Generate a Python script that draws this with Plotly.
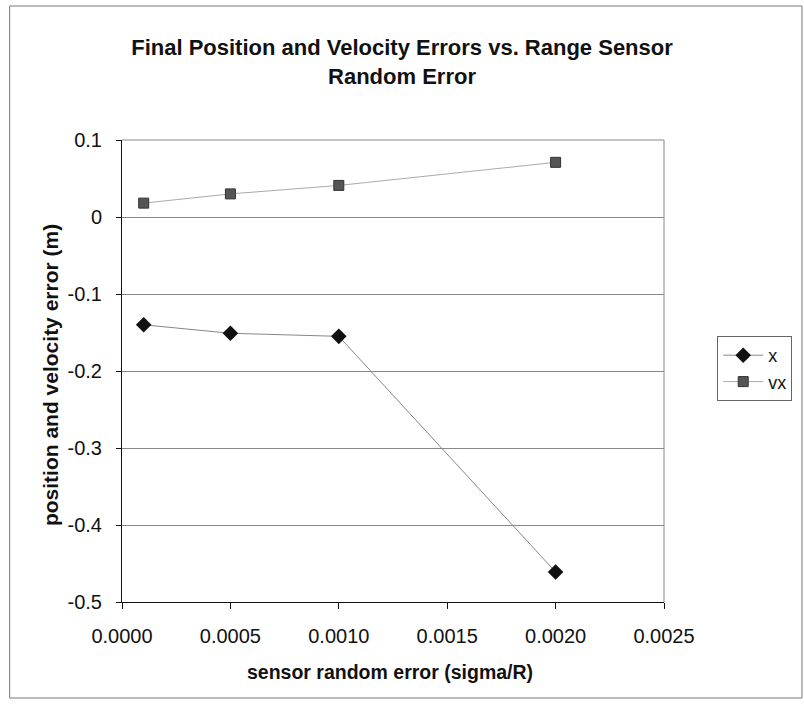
import plotly.graph_objects as go

sigma = [0.0001, 0.0005, 0.0010, 0.0020]
x_err = [-0.140, -0.151, -0.155, -0.461]
vx_err = [0.018, 0.030, 0.041, 0.071]

y_tickvals = [0.1, 0.0, -0.1, -0.2, -0.3, -0.4, -0.5]
y_ticktext = ["0.1", "0", "-0.1", "-0.2", "-0.3", "-0.4", "-0.5"]
x_tickvals = [0.0, 0.0005, 0.0010, 0.0015, 0.0020, 0.0025]
x_ticktext = ["0.0000", "0.0005", "0.0010", "0.0015", "0.0020", "0.0025"]

FONT = "Liberation Sans, Arial, sans-serif"

fig = go.Figure()
fig.add_trace(go.Scatter(
    x=sigma, y=x_err, name="x", mode="lines+markers",
    line=dict(color="#888888", width=1),
    marker=dict(symbol="diamond", size=12, color="#111111"),
))
fig.add_trace(go.Scatter(
    x=sigma, y=vx_err, name="vx", mode="lines+markers",
    line=dict(color="#aaaaaa", width=1),
    marker=dict(symbol="square", size=10, color="#555555",
                line=dict(color="#333333", width=1)),
))

L, R, T, B = 122, 132, 140, 107
W, H = 804, 709
pw, ph = W - L - R, H - T - B

def px(x):
    return (x - L) / pw

def py(y):
    return (H - B - y) / ph

fig.update_layout(
    width=W, height=H,
    margin=dict(l=L, r=R, t=T, b=B),
    paper_bgcolor="white", plot_bgcolor="white",
    font=dict(family=FONT, color="#111111", size=20),
    title=dict(
        text="<b>Final Position and Velocity Errors vs. Range Sensor<br>Random Error</b>",
        x=0.5, xanchor="center", y=1 - 55 / H, yanchor="top",
        font=dict(size=22, family=FONT, color="#111111"),
    ),
    showlegend=True,
    legend=dict(
        x=px(726), y=py(336), xanchor="left", yanchor="top",
        bordercolor="#666666", borderwidth=1, bgcolor="white",
        font=dict(size=18, family=FONT),
        itemwidth=40, tracegroupgap=6,
    ),
    xaxis=dict(
        range=[0, 0.0025], tickvals=x_tickvals, ticktext=x_ticktext,
        showgrid=False, zeroline=False,
        showline=True, linecolor="#111111", linewidth=1, mirror=False,
        ticks="outside", ticklen=6, tickcolor="#111111",
        tickfont=dict(size=20, family=FONT),
        ticklabelstandoff=10,
    ),
    yaxis=dict(
        range=[-0.5, 0.1], tickvals=y_tickvals, ticktext=y_ticktext,
        showgrid=True, gridcolor="#888888", gridwidth=1, zeroline=False,
        showline=True, linecolor="#111111", linewidth=1,
        ticks="outside", ticklen=5, tickcolor="#111111",
        tickfont=dict(size=20, family=FONT),
        ticklabelstandoff=10,
    ),
    annotations=[
        dict(text="<b>position and velocity error (m)</b>", textangle=-90,
             xref="paper", yref="paper", x=px(49), y=py(375),
             xanchor="center", yanchor="middle", showarrow=False,
             font=dict(size=21, family=FONT)),
        dict(text="<b>sensor random error (sigma/R)</b>",
             xref="paper", yref="paper", x=px(394), y=py(672),
             xanchor="center", yanchor="middle", showarrow=False,
             font=dict(size=19.5, family=FONT)),
    ],
    shapes=[
        dict(type="line", xref="paper", yref="paper", x0=0, x1=1, y0=1, y1=1,
             line=dict(color="#888888", width=1)),
        dict(type="line", xref="paper", yref="paper", x0=1, x1=1, y0=0, y1=1,
             line=dict(color="#888888", width=1)),
        dict(type="rect", xref="paper", yref="paper",
             x0=px(8), x1=px(812), y0=py(698), y1=py(6),
             line=dict(color="#777777", width=1), layer="below"),
    ],
)

fig.write_html("out.html")
